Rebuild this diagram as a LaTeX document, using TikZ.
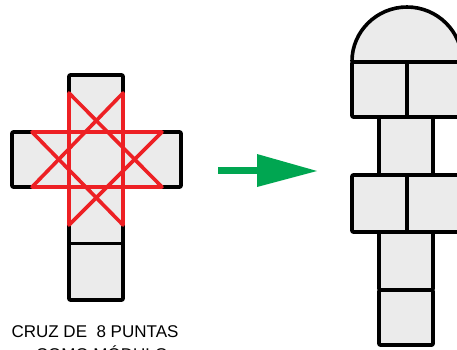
\documentclass[tikz,border=0pt]{standalone}
\usepackage{fontspec}
\setmainfont{Liberation Sans}
\definecolor{cellgray}{RGB}{235,235,235}
\definecolor{starred}{RGB}{237,32,36}
\definecolor{arrowgreen}{RGB}{0,166,81}
\begin{document}
\begin{tikzpicture}[x=1pt,y=-1pt,
    cell/.style={draw=black,fill=cellgray,line width=3.6pt,line join=round,rounded corners=1pt},
    label/.style={anchor=base,inner sep=0pt,font=\fontsize{17}{18}\selectfont}]
  \useasboundingbox (0,0) rectangle (457,349);
  % cross
  \draw[cell] (69,75) -- (123,75) -- (123,132) -- (181,132) -- (181,187) -- (123,187)
     -- (123,300) -- (69,300) -- (69,187) -- (12,187) -- (12,132) -- (69,132) -- cycle;
  \draw[line width=3pt] (69,243) -- (123,243);
  % star
  \draw[starred,line width=3.6pt,line join=round]
     (69,93) -- (162,187) -- (32,187) -- (123,93) -- (123,225) -- (32,132) -- (162,132) -- (69,225) -- cycle;
  \node[label] (title) at (95,337) {CRUZ DE\ \ 8 PUNTAS};
  \node[label] (subtitle) at (102,360) {COMO MÓDULO};
  % arrow
  \fill[arrowgreen] (218,167) rectangle (258,174);
  \fill[arrowgreen] (257,154) -- (317,171) -- (257,187) -- cycle;
  % hopscotch
  \draw[cell] (352,62) arc[start angle=180,end angle=360,radius=55] -- cycle;
  \draw[cell] (352,62) rectangle (407,117);
  \draw[cell] (407,62) rectangle (462,117);
  \draw[cell] (379,117) rectangle (433,175);
  \draw[cell] (352,175) rectangle (407,232);
  \draw[cell] (407,175) rectangle (462,232);
  \draw[cell] (379,232) rectangle (433,290);
  \draw[cell] (379,290) rectangle (433,345);
\end{tikzpicture}
\end{document}
